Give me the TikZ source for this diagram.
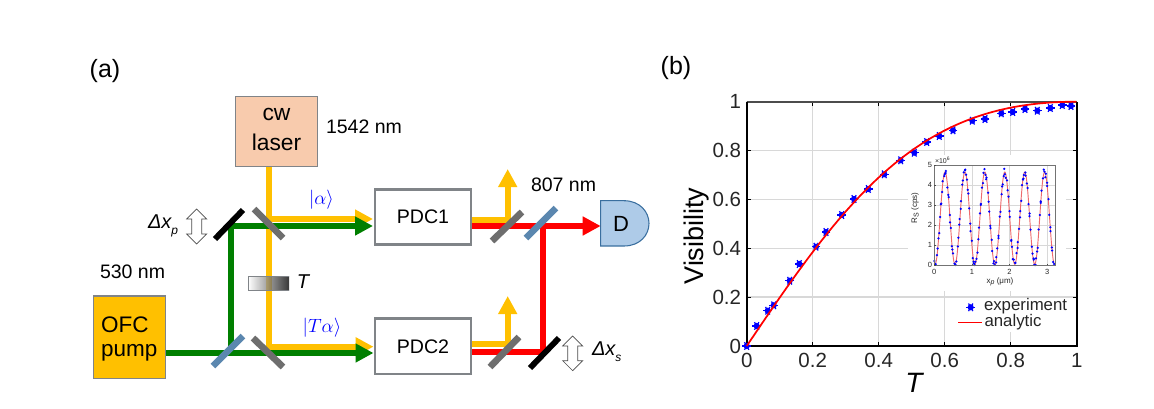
\documentclass[tikz,border=0pt]{standalone}
\usepackage{fontspec}
\setmainfont{Liberation Sans}
\usetikzlibrary{arrows.meta,calc}
\definecolor{beamyel}{HTML}{FFC000}
\definecolor{beamgrn}{HTML}{007F00}
\definecolor{beamred}{HTML}{FF0000}
\definecolor{bsgray}{HTML}{6E6E6E}
\definecolor{bsblue}{HTML}{5B87AF}
\definecolor{boxgray}{HTML}{808488}
\definecolor{lasercol}{HTML}{F8CBAD}
\definecolor{detcol}{HTML}{AECBE8}
\definecolor{detline}{HTML}{3A6F9F}
\definecolor{gridcol}{HTML}{D8D8D8}
\definecolor{txtcol}{HTML}{262626}
\definecolor{insetred}{HTML}{EE6A6E}
\newcommand{\pxfont}[1]{\fontsize{\fpeval{#1*0.75}}{\fpeval{#1*0.9}}\selectfont}
\tikzset{
  txt/.style={inner sep=0pt,outer sep=0pt,text=black},
  beam/.style={line width=4.3pt,line join=miter},
  tipbeam/.style={beam,-{Triangle[length=13.5pt,width=13.5pt]}},
  splitter/.style={line width=5pt,draw=#1},
  mirror/.style={line width=4.4pt,draw=black},
  pdcbox/.style={draw=boxgray,line width=2.2pt,fill=white,minimum width=72pt,minimum height=41.5pt,inner sep=0pt,font=\pxfont{19.6}},
  tinylab/.style={txt,font=\pxfont{7.5},text=txtcol},
  ticklab/.style={txt,font=\pxfont{20.5},text=txtcol},
}
\begin{document}
\begin{tikzpicture}[x=0.75pt,y=-0.75pt]
\useasboundingbox (0,0) rectangle (1154,408);
% ---------- panel labels
\node[txt,font=\pxfont{25}] (la) at (105,71) {(a)};
\node[txt,font=\pxfont{25}] (lb) at (676,68) {(b)};
% ---------- boxes
\node[draw=boxgray,line width=0.8pt,fill=lasercol,minimum width=61pt,minimum height=53pt,inner sep=0pt] (cw) at (276.5,131.5) {};
\node[txt,font=\pxfont{22.8}] (cwa) at (276.5,114) {cw};
\node[txt,font=\pxfont{22.8}] (cwb) at (276.5,142) {laser};
\node[draw=boxgray,line width=0.8pt,fill=beamyel,minimum width=54pt,minimum height=62pt,inner sep=0pt] (ofc) at (129.5,337.3) {};
\node[txt,font=\pxfont{22.5},anchor=west] (ofca) at (101,325) {OFC};
\node[txt,font=\pxfont{22.5},anchor=west] (ofcb) at (101,353) {pump};
\node[pdcbox] (pdca) at (423,217) {PDC1};
\node[pdcbox] (pdcb) at (423,346.3) {PDC2};
% ---------- detector
\draw[draw=detline,line width=0.8pt,fill=detcol] (600.7,200.7) -- (624,200.7) .. controls (640,200.7) and (649,212) .. (649,223.4) .. controls (649,235) and (640,246) .. (624,246) -- (600.7,246) -- cycle;
\node[txt,font=\pxfont{22}] (det) at (621,224) {D};
\coordinate (detin) at (600.7,226);
% ---------- beam coordinates
\coordinate (yc) at (269,219);
\coordinate (yd) at (269,346.7);
\coordinate (gt) at (231,226);
\coordinate (gb) at (231,353);
\coordinate (ya) at (507.7,220);
\coordinate (yatip) at (507.7,169);
\coordinate (yb) at (507.7,344);
\coordinate (ybtip) at (507.7,296);
\coordinate (rv) at (542.7,226);
\coordinate (rb) at (542.7,351.7);
% ---------- yellow beams
\draw[tipbeam,draw=beamyel] (cw.south -| yc) -- (yd) -- (373.5,346.7);
\draw[tipbeam,draw=beamyel] (yc) -- (373,219);
\draw[tipbeam,draw=beamyel] (472,220) -- (ya) -- (yatip);
\draw[tipbeam,draw=beamyel] (472,344) -- (yb) -- (ybtip);
% ---------- T filter
\shade[left color=white,right color=black,opacity=.78] (248,276) rectangle (289,290);
\draw[draw=boxgray,line width=0.4pt] (289,276) -- (248,276) -- (248,290) -- (289,290);
\node[txt,font=\pxfont{20}\itshape] (tlab) at (303,282) {T};
% ---------- green and red beams
\draw[tipbeam,draw=beamgrn] (gb) -- (gt) -- (373,226);
\draw[tipbeam,draw=beamgrn] (ofc.east |- gb) -- (373.5,353);
\draw[beam,draw=beamred] (472,351.7) -- (rb) -- (rv);
\draw[tipbeam,draw=beamred] (472,226) -- (detin);
% ---------- splitters
\draw[splitter=bsgray] (254,209) -- (283,238);
\draw[splitter=bsgray] (253,338) -- (283,367);
\draw[splitter=bsblue] (213,366) -- (243,336);
\draw[splitter=bsgray] (492,241) -- (522,212);
\draw[splitter=bsblue] (526,238) -- (556,208);
\draw[splitter=bsgray] (490,367) -- (519,337);
% ---------- mirrors
\draw[mirror] (215,239) -- (243,210);
\draw[mirror] (530,368) -- (559,338);
% ---------- translation arrows
\foreach \n/\cx/\ya/\yb in {p/196.7/209/244,s/572.7/336/370.7}{
  \draw[draw=black!70,line width=0.5pt,fill=white] (\cx,\ya) -- (\cx+10,\ya+10) -- (\cx+5,\ya+10) -- (\cx+5,\yb-10) -- (\cx+10,\yb-10) -- (\cx,\yb) -- (\cx-10,\yb-10) -- (\cx-5,\yb-10) -- (\cx-5,\ya+10) -- (\cx-10,\ya+10) -- cycle;
}
\node[txt,font=\pxfont{20}\itshape,anchor=west] (dxp) at (148,226) {Δx\raisebox{-0.3em}{\pxfont{12}p}};
\node[txt,font=\pxfont{20}\itshape,anchor=west] (dxs) at (592,352) {Δx\raisebox{-0.3em}{\pxfont{12}s}};
% ---------- wavelength labels
\node[txt,font=\pxfont{19.5},anchor=west] (l1542) at (326,127) {1542 nm};
\node[txt,font=\pxfont{19.5},anchor=west] (l530) at (100,272) {530 nm};
\node[txt,font=\pxfont{19.5},anchor=west] (l807) at (531,185) {807 nm};
\node[txt,text=blue,font=\pxfont{19}] (ketA) at (321.5,200) {$|\alpha\rangle$};
\node[txt,text=blue,font=\pxfont{19}] (ketB) at (322,328) {$|T\alpha\rangle$};
% ========== right plot
\foreach \i in {1,2,3,4}{
  \draw[gridcol,line width=1.1pt] (746.7+66*\i,101.7) -- (746.7+66*\i,346);
  \draw[gridcol,line width=1.1pt] (746.7,346-48.86*\i) -- (1076.7,346-48.86*\i);
}
% inset and legend backgrounds
\fill[white] (908,155) rectangle (1066,291);
\fill[white] (950,298) rectangle (1075,332);
% axis ticks and frame
\foreach \i in {0,1,2,3,4,5}{
  \draw[black,line width=0.9pt] (746.7+66*\i,346) -- (746.7+66*\i,342);
  \draw[black,line width=0.9pt] (746.7+66*\i,101.7) -- (746.7+66*\i,105.7);
  \draw[black,line width=0.9pt] (746.7,346-48.86*\i) -- (750.7,346-48.86*\i);
  \draw[black,line width=0.9pt] (1076.7,346-48.86*\i) -- (1072.7,346-48.86*\i);
}
\draw[black!70,line width=1.2pt] (746.7,101.7) -- (1076.7,101.7);
\draw[black,line width=1.2pt] (746.7,101.7) -- (746.7,346) -- (1076.7,346) -- (1076.7,101.7);
\foreach \i/\l in {0/0,1/0.2,2/0.4,3/0.6,4/0.8,5/1}{
  \node[ticklab] (xt\i) at (746.7+66*\i,360.5) {\l};
  \node[ticklab,anchor=east] (yt\i) at (741,346-48.86*\i) {\l};
}
\node[txt,font=\pxfont{27},rotate=90] (vis) at (697,236) {Visibility};
\node[txt,font=\pxfont{28}\itshape] (tx) at (914,383) {T};
% data
\foreach \a/\b in {746.7/346,756.7/326,767.7/310.7,773.7/305.3,789.7/280.7,799.3/264,816/246.7,826/232,841.7/215,854/199,868.3/189,884.3/174.3,900.7/160.3,914.3/152.7,926.7/142,939.3/136,953/130.3,972.3/120.7,985/119,1001.3/113.3,1012.7/112,1025/109,1037.3/110.7,1050.3/108,1062.3/105,1071/106}{
  \fill[blue] (\a,\b) circle[radius=3.1];
  \foreach \r in {0,60,120}{\draw[blue,line width=0.9pt] (\a,\b) ++(\r:4.4) -- ++(\r+180:8.8);}
}
\draw[beamred,line width=1.3pt,line join=round] plot[domain=0:1,samples=80,smooth] ({746.7+330*\x},{346-244.3*2*\x/(1+\x*\x)});
% ========== inset
\foreach \i in {1,2,3}{\draw[gridcol,line width=0.6pt] (934.3+37.6*\i,165) -- (934.3+37.6*\i,265.3);}
\foreach \i in {1,2,3,4}{\draw[gridcol,line width=0.6pt] (934.3,265.3-20.06*\i) -- (1055,265.3-20.06*\i);}
\draw[insetred,line width=0.7pt] plot[domain=0:3.2,samples=260] ({934.3+37.6*\x},{265.3-20.06*(0.05+2.3*(1-cos(360*(\x-0.02)/0.53)))});
\pgfmathsetseed{4242}
\foreach \k in {0,...,150}{
  \pgfmathsetmacro{\xv}{min(3.2,\k*0.0212+0.012*rand)}
  \pgfmathsetmacro{\yv}{max(0.02,0.05+2.3*(1-cos(360*(\xv-0.02)/0.53))+0.2*rand)}
  \fill[blue] ({934.3+37.6*\xv},{265.3-20.06*\yv}) circle[radius=1.25];
}
\draw[black!55,line width=0.7pt] (934.3,165) rectangle (1055,265.3);
\foreach \i in {0,1,2,3}{
  \draw[black!70,line width=0.4pt] (934.3+37.6*\i,265.3) -- (934.3+37.6*\i,263.5);
  \node[tinylab] (ixt\i) at (934.3+37.6*\i,272) {\i};
}
\foreach \i in {0,1,2,3,4,5}{
  \draw[black!70,line width=0.4pt] (934.3,265.3-20.06*\i) -- (936,265.3-20.06*\i);
  \node[tinylab,anchor=east] (iyt\i) at (932,265.3-20.06*\i) {\i};
}
\node[tinylab,anchor=west,font=\pxfont{7}] (iexp) at (935,160.5) {×10\raisebox{0.4em}{\pxfont{5}6}};
\node[tinylab,rotate=90,font=\pxfont{8}] (iyl) at (915,208) {R\raisebox{-0.2em}{\pxfont{7}S} (cps)};
\node[tinylab,font=\pxfont{8}] (ixl) at (1000,282) {x\raisebox{-0.2em}{\pxfont{7}\itshape p} (μm)};
% legend
\fill[blue] (970.7,307.3) circle[radius=3.1];
\foreach \r in {0,60,120}{\draw[blue,line width=0.9pt] (970.7,307.3) ++(\r:4.4) -- ++(\r+180:8.8);}
\node[txt,font=\pxfont{16.8},anchor=west,text=txtcol] (lexp) at (984,306.5) {experiment};
\coordinate (lga) at (958,322.7);
\coordinate (lgb) at (982,322.7);
\draw[beamred,line width=1pt] (lga) -- (lgb);
\node[txt,font=\pxfont{16.8},anchor=west,text=txtcol] (lana) at (984.5,322.5) {analytic};
\end{tikzpicture}
\end{document}
